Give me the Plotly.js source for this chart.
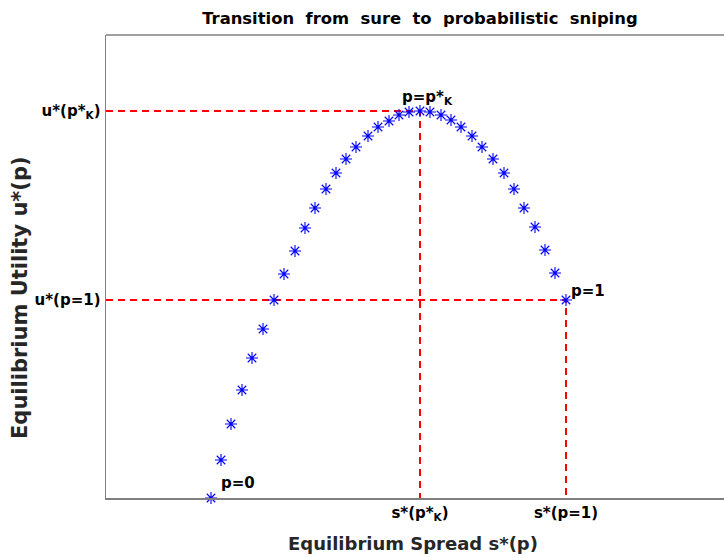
<!DOCTYPE html>
<html><head><meta charset="utf-8">
<script src="https://cdn.plot.ly/plotly-3.0.1.min.js"></script>
<style>html,body{margin:0;padding:0;overflow:hidden;background:#fff}</style>
</head><body>
<div id="chart" style="width:724px;height:558px"></div>
<script>
// Equilibrium spread s*(p) and utility u*(p), p from 0 to 1 (arbitrary units)
const spread = [1.05,1.15,1.25,1.36,1.46,1.57,1.68,1.78,1.89,1.99,2.09,2.20,2.30,2.40,2.50,2.62,2.72,2.83,2.93,3.03,3.14,3.24,3.35,3.45,3.55,3.66,3.76,3.87,3.98,4.08,4.18,4.29,4.39,4.49,4.60];
const utility = [0,0.38,0.74,1.08,1.40,1.69,1.98,2.24,2.47,2.70,2.90,3.09,3.25,3.39,3.51,3.62,3.71,3.77,3.83,3.86,3.87,3.86,3.83,3.78,3.71,3.62,3.51,3.39,3.25,3.09,2.90,2.71,2.48,2.25,1.98];
const peakIndex = 20;
const xTickLabels = ['s*(p*<sub>K</sub>)', 's*(p=1)'];
const yTickLabels = ['u*(p=1)', 'u*(p*<sub>K</sub>)'];
const pointLabels = ['p=0', 'p=p*<sub>K</sub>', 'p=1'];

const xRange = [0, 6.18];
const yRange = [0, 4.63];
const last = spread.length - 1;
const sK = spread[peakIndex], uK = utility[peakIndex];
const s1 = spread[last], u1 = utility[last];

const dashStyle = {color: '#ff0000', width: 2, dash: '7px,5px'};
const traces = [
  {x: [xRange[0], sK, sK], y: [uK, uK, yRange[0]], mode: 'lines', line: dashStyle, hoverinfo: 'skip'},
  {x: [xRange[0], s1, s1], y: [u1, u1, yRange[0]], mode: 'lines', line: dashStyle, hoverinfo: 'skip'},
  {x: spread, y: utility, mode: 'markers', cliponaxis: false,
   marker: {symbol: 'asterisk-open', size: 10, color: '#0000ff', line: {color: '#0000ff', width: 1.1}}}
];

const fnt = {family: 'DejaVu Sans', size: 15, color: '#000'};
const layout = {
  width: 724, height: 558,
  margin: {l: 106, r: 0, t: 35, b: 60},
  showlegend: false,
  paper_bgcolor: '#fff', plot_bgcolor: '#fff',
  title: {text: '<b>Transition  from  sure  to  probabilistic  sniping</b>',
          font: {family: 'DejaVu Sans', size: 16.4, color: '#000'},
          x: 0.58, xanchor: 'center', xref: 'container', y: 0.968, yanchor: 'middle', yref: 'container'},
  xaxis: {range: xRange, showgrid: false, zeroline: false, showline: true, linecolor: '#808080', linewidth: 1.5,
          tickmode: 'array', tickvals: [sK, s1], ticktext: xTickLabels.map(t => '<b>' + t + '</b>'),
          ticks: '', tickfont: fnt, fixedrange: true},
  yaxis: {range: yRange, showgrid: false, zeroline: false, showline: true, linecolor: '#808080', linewidth: 1.5,
          tickmode: 'array', tickvals: [u1, uK], ticktext: yTickLabels.map(t => '<b>' + t + '</b>'),
          ticks: '', tickfont: fnt, ticklabelstandoff: 1, fixedrange: true},
  shapes: [{type: 'line', xref: 'paper', yref: 'paper', x0: 0, x1: 1, y0: 1, y1: 1,
            line: {color: '#808080', width: 1.5}}],
  annotations: [
    {x: spread[0], y: utility[0], text: '<b>' + pointLabels[0] + '</b>', showarrow: false,
     xanchor: 'left', yanchor: 'bottom', xshift: 8, yshift: 4, font: fnt},
    {x: sK, y: uK, text: '<b>' + pointLabels[1] + '</b>', showarrow: false,
     xanchor: 'center', yanchor: 'bottom', xshift: 7, yshift: 2, font: fnt},
    {x: s1, y: u1, text: '<b>' + pointLabels[2] + '</b>', showarrow: false,
     xanchor: 'left', yanchor: 'bottom', xshift: 3, yshift: -2, font: fnt},
    {xref: 'paper', yref: 'paper', x: (413 - 106) / 618, y: -(543 - 498) / 463,
     text: '<b>Equilibrium Spread s*(p)</b>', showarrow: false, xanchor: 'center', yanchor: 'middle',
     font: {family: 'DejaVu Sans', size: 18, color: '#262626'}},
    {xref: 'paper', yref: 'paper', x: -(106 - 20) / 618, y: (498 - 297) / 463, textangle: -90,
     text: '<b>Equilibrium Utility u*(p)</b>', showarrow: false, xanchor: 'center', yanchor: 'middle',
     font: {family: 'DejaVu Sans', size: 21, color: '#262626'}}
  ]
};
Plotly.newPlot('chart', traces, layout, {displayModeBar: false, staticPlot: true});
</script>
</body></html>
